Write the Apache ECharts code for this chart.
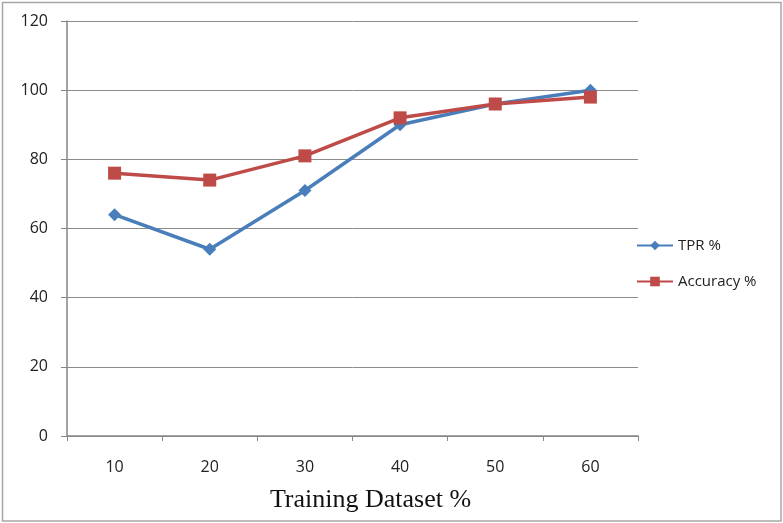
<!DOCTYPE html>
<html>
<head>
<meta charset="utf-8">
<script src="https://cdn.jsdelivr.net/npm/echarts@6/dist/echarts.min.js"></script>
<style>html,body{margin:0;padding:0;background:#fff}#c{width:783px;height:523px}</style>
</head>
<body>
<div id="c"></div>
<script>
const categories = ['10', '20', '30', '40', '50', '60'];
const tprValues = [64, 54, 71, 90, 96, 100];
const accuracyValues = [76, 74, 81, 92, 96, 98];
const xAxisTitle = 'Training Dataset %';

const chart = echarts.init(document.getElementById('c'));
chart.setOption({
  animation: false,
  backgroundColor: '#fff',
  graphic: [{
    type: 'rect',
    shape: { x: 2.5, y: 2.5, width: 778.5, height: 518.5 },
    style: { fill: 'none', stroke: '#a6a6a6', lineWidth: 1.5 },
    silent: true
  }],
  grid: { left: 67, right: 145, top: 21, bottom: 87, outerBoundsMode: 'none' },
  legend: {
    orient: 'vertical', left: 631, top: 233, itemGap: 21,
    itemWidth: 36, itemHeight: 12,
    textStyle: { fontFamily: 'Open Sans', fontSize: 15, color: '#222' },
    data: ['TPR %', 'Accuracy %']
  },
  xAxis: {
    type: 'category', data: categories, boundaryGap: true,
    axisLine: { lineStyle: { color: '#868686', width: 1.5 } },
    axisTick: { show: true, length: 5, lineStyle: { color: '#868686' } },
    axisLabel: { margin: 23, fontFamily: 'Open Sans', fontSize: 16, color: '#222' },
    name: xAxisTitle, nameLocation: 'middle', nameGap: 51,
    nameTextStyle: { fontFamily: 'Liberation Serif', fontSize: 26, color: '#111', padding: [0, 0, 0, 36] }
  },
  yAxis: {
    type: 'value', min: 0, max: 120, interval: 20,
    axisLine: { show: true, lineStyle: { color: '#868686', width: 1.5 } },
    axisTick: { show: true, length: 6, lineStyle: { color: '#868686' } },
    axisLabel: { margin: 19, fontFamily: 'Open Sans', fontSize: 16, color: '#222' },
    splitLine: { lineStyle: { color: '#8c8c8c', width: 1 } }
  },
  series: [
    {
      name: 'TPR %', type: 'line', data: tprValues,
      symbol: 'diamond', symbolSize: 13,
      lineStyle: { color: '#4a7ebb', width: 3.5 },
      itemStyle: { color: '#4a7ebb' }
    },
    {
      name: 'Accuracy %', type: 'line', data: accuracyValues,
      symbol: 'rect', symbolSize: 13,
      lineStyle: { color: '#be4b48', width: 3.5 },
      itemStyle: { color: '#be4b48' }
    }
  ]
});
</script>
</body>
</html>
